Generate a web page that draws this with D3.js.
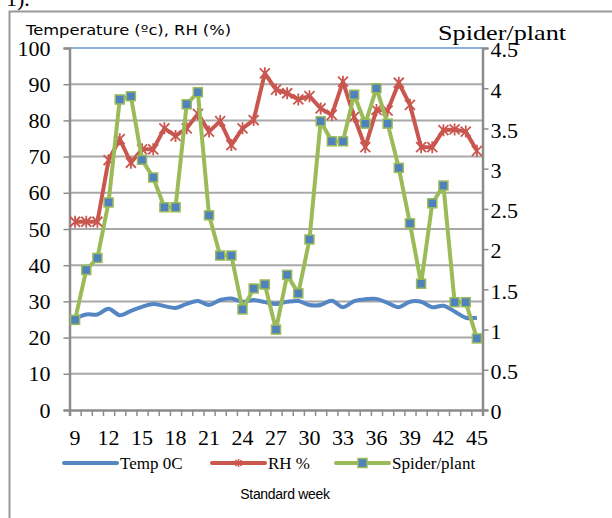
<!DOCTYPE html>
<html>
<head>
<meta charset="utf-8">
<script src="https://cdnjs.cloudflare.com/ajax/libs/d3/7.8.5/d3.min.js"></script>
<style>
  body { margin: 0; background: #fff; }
  svg { display: block; }
</style>
</head>
<body>
<div class="chart"></div>
<script>
// data
var weeks = d3.range(9, 46);
var tempC = [25.3, 26.4, 26.4, 28.0, 26.2, 27.4, 28.5, 29.3, 28.7, 28.2, 29.3, 30.1, 29.0, 30.4, 30.8, 29.9, 30.4, 29.8,
  29.3, 29.9, 30.1, 29.0, 29.0, 30.2, 28.4, 30.1, 30.6, 30.7, 29.6, 28.4, 29.9, 29.9, 28.4, 28.8, 27.2, 25.5, 25.5];
var rhPct = [52, 52, 52, 69, 74.8, 68.3, 72, 72, 77.8, 75.7, 77.8, 81.8, 76.9, 79.8, 73.2, 77.8, 80.1, 93, 88.5,
  87.5, 85.8, 86.7, 83.3, 81.5, 90.7, 81, 72.6, 82.9, 82.7, 90.4, 84.3, 72.6, 72.6, 77.3, 77.5, 76.9, 71.6];
var spiders = [1.12, 1.74, 1.89, 2.58, 3.86, 3.9, 3.11, 2.89, 2.52, 2.52, 3.8, 3.95, 2.42, 1.92, 1.92, 1.25, 1.51, 1.56,
  1.0, 1.68, 1.45, 2.12, 3.59, 3.34, 3.34, 3.92, 3.56, 4.0, 3.56, 3.01, 2.32, 1.57, 2.57, 2.79, 1.34, 1.34, 0.89];
var leftTicks = d3.range(0, 101, 10);
var rightTicks = d3.range(0, 4.51, 0.5);
var weekLabels = [9, 12, 15, 18, 21, 24, 27, 30, 33, 36, 39, 42, 45];

var widthSVG = 612;
var heightSVG = 518;
var plot = { left: 69.5, right: 482.5, top: 48, bottom: 410 };

var serif = "'Liberation Serif', 'DejaVu Serif', serif";
var sans = "'DejaVu Sans', 'Liberation Sans', sans-serif";
var blue = "#5486c4", red = "#c9574f", green = "#9bbb59";

var svg = d3.select(".chart").append("svg")
  .attr("width", widthSVG)
  .attr("height", heightSVG);

// document fragment + chart frame
svg.append("text").attr("x", 6).attr("y", 6)
  .attr("font-family", serif).attr("font-size", 22).text("1).");
svg.append("path")
  .attr("d", "M9.5,530 V11.5 H620")
  .attr("fill", "none").attr("stroke", "#999").attr("stroke-width", 2);

// scales
var x = d3.scaleBand().domain(weeks).range([plot.left, plot.right]).padding(0);
var xEdge = d3.scaleLinear().domain([0, weeks.length]).range([plot.left, plot.right]);
var yLeft = d3.scaleLinear().domain([0, 100]).range([plot.bottom, plot.top]);
var yRight = d3.scaleLinear().domain([0, 4.5]).range([plot.bottom, plot.top]);
var cx = d => x(d) + x.bandwidth() / 2;

// gridlines
svg.append("g").selectAll("line")
  .data(leftTicks.filter(d => d > 0))
  .enter().append("line")
  .attr("x1", plot.left).attr("x2", plot.right)
  .attr("y1", d => yLeft(d)).attr("y2", d => yLeft(d))
  .attr("stroke", d => d === 100 ? "#8fb0d8" : "#a8a8a8")
  .attr("stroke-width", 2);

// left axis
var leftAxis = svg.append("g")
  .attr("transform", `translate(${plot.left},0)`)
  .call(d3.axisLeft(yLeft).tickValues(leftTicks).tickSize(6).tickPadding(13));
// right axis
var rightAxis = svg.append("g")
  .attr("transform", `translate(${plot.right},0)`)
  .call(d3.axisRight(yRight).tickValues(rightTicks).tickSize(6).tickPadding(2)
    .tickFormat(d => d3.format("~g")(d)));
// bottom tick marks on category edges
var bottomTicks = svg.append("g")
  .attr("transform", `translate(0,${plot.bottom})`)
  .call(d3.axisBottom(xEdge).tickValues(d3.range(0, weeks.length + 1))
    .tickSize(6).tickFormat(""));
// bottom labels
var bottomAxis = svg.append("g")
  .attr("transform", `translate(0,${plot.bottom})`)
  .call(d3.axisBottom(x).tickValues(weekLabels).tickSize(0).tickPadding(19));

[leftAxis, rightAxis, bottomTicks, bottomAxis].forEach(function (g) {
  g.selectAll(".domain").attr("stroke", "#8c8c8c").attr("stroke-width", 2.5);
  g.selectAll(".tick line").attr("stroke", "#8c8c8c").attr("stroke-width", 1.5);
  g.selectAll("text").attr("font-family", serif).attr("font-size", 22).attr("fill", "#000");
});
bottomAxis.select(".domain").remove();
rightAxis.selectAll("text").attr("dy", "0.4em");

// temperature (smoothed line)
svg.append("path")
  .datum(tempC)
  .attr("fill", "none").attr("stroke", blue).attr("stroke-width", 4)
  .attr("stroke-linejoin", "round")
  .attr("d", d3.line().x((d, i) => cx(weeks[i])).y(d => yLeft(d)).curve(d3.curveCatmullRom));

// RH
svg.append("path")
  .datum(rhPct)
  .attr("fill", "none").attr("stroke", red).attr("stroke-width", 4)
  .attr("stroke-linejoin", "round")
  .attr("d", d3.line().x((d, i) => cx(weeks[i])).y(d => yLeft(d)));
svg.append("g").selectAll("path")
  .data(rhPct)
  .enter().append("path")
  .attr("transform", (d, i) => `translate(${cx(weeks[i])},${yLeft(d)})`)
  .attr("d", "M-5,-5L5,5M-5,5L5,-5M0,-6V6")
  .attr("stroke", red).attr("stroke-width", 1.8).attr("fill", "none");

// spider/plant
svg.append("path")
  .datum(spiders)
  .attr("fill", "none").attr("stroke", green).attr("stroke-width", 4)
  .attr("stroke-linejoin", "round")
  .attr("d", d3.line().x((d, i) => cx(weeks[i])).y(d => yRight(d)));
svg.append("g").selectAll("rect")
  .data(spiders)
  .enter().append("rect")
  .attr("x", (d, i) => cx(weeks[i]) - 4.5)
  .attr("y", d => yRight(d) - 4.5)
  .attr("width", 9).attr("height", 9)
  .attr("fill", "#4f81bd").attr("stroke", green).attr("stroke-width", 1.5);

// axis titles
svg.append("text").attr("x", 26).attr("y", 35)
  .attr("font-family", sans).attr("font-size", 13.5)
  .attr("textLength", 205).attr("lengthAdjust", "spacingAndGlyphs")
  .text("Temperature (ºc), RH (%)");
svg.append("text").attr("x", 438).attr("y", 40)
  .attr("font-family", serif).attr("font-size", 21)
  .attr("textLength", 128).attr("lengthAdjust", "spacingAndGlyphs")
  .text("Spider/plant");
svg.append("text").attr("x", 285).attr("y", 499).attr("text-anchor", "middle")
  .attr("font-family", "'Liberation Sans Narrow', 'Liberation Sans', sans-serif")
  .attr("font-size", 14).attr("letter-spacing", "-0.3").text("Standard week");

// legend
var legendItems = [
  { name: "Temp 0C", color: blue, x: 64, marker: "none" },
  { name: "RH %", color: red, x: 212, marker: "star" },
  { name: "Spider/plant", color: green, x: 336, marker: "square" }
];
var legend = svg.append("g").attr("transform", "translate(0,463)");
legendItems.forEach(function (it) {
  var g = legend.append("g").attr("transform", `translate(${it.x},0)`);
  g.append("line").attr("x1", 0).attr("x2", 53).attr("y1", 0).attr("y2", 0)
    .attr("stroke", it.color).attr("stroke-width", 4).attr("stroke-linecap", "round");
  if (it.marker === "star") {
    g.append("path").attr("transform", "translate(26.5,0)")
      .attr("d", "M-3,-3L3,3M-3,3L3,-3M0,-4V4")
      .attr("stroke", it.color).attr("stroke-width", 1.5);
  } else if (it.marker === "square") {
    g.append("rect").attr("x", 22).attr("y", -4.5).attr("width", 9).attr("height", 9)
      .attr("fill", "#4f81bd").attr("stroke", it.color).attr("stroke-width", 1.5);
  }
  g.append("text").attr("x", 56).attr("y", 6)
    .attr("font-family", serif).attr("font-size", 17).text(it.name);
});
</script>
</body>
</html>
